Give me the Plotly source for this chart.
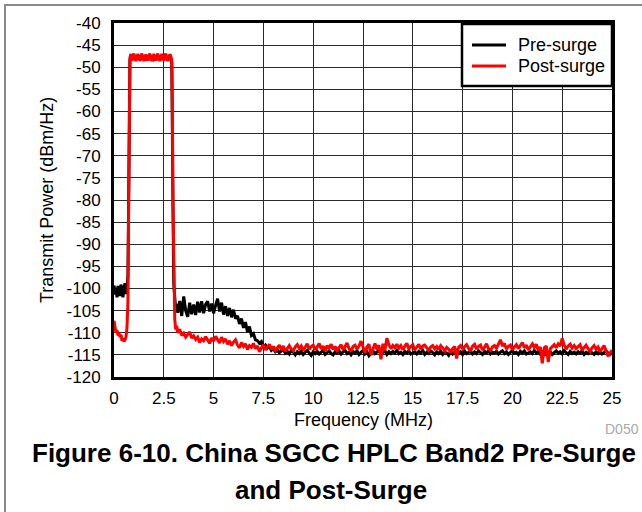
import plotly.graph_objects as go

# ---------------- data ----------------
# Frequency grid (MHz) for the low band + pass band + edges (shared by both traces)
head_freq = [0.0, 0.05, 0.1, 0.15, 0.2, 0.25, 0.3, 0.35, 0.4, 0.45, 0.5, 0.55, 0.6, 0.65,
             0.7, 0.73, 0.76, 0.78, 0.8, 0.85,
             0.9, 1.0, 1.1, 1.2, 1.3, 1.4, 1.5, 1.6, 1.7, 1.8, 1.9, 2.0, 2.1, 2.2, 2.3, 2.4,
             2.5, 2.6, 2.7, 2.8,
             2.85, 2.9, 2.93, 2.96, 3.0, 3.05, 3.1, 3.15]

# Frequency grid (MHz) for the out-of-band tail
tail_freq = [3.2, 3.3, 3.4, 3.5, 3.6, 3.7, 3.8, 3.9, 4.0, 4.1,
             4.2, 4.3, 4.4, 4.5, 4.6, 4.7, 4.8, 4.9, 5.0, 5.1,
             5.2, 5.3, 5.4, 5.5, 5.6, 5.7, 5.8, 5.9, 6.0, 6.1,
             6.2, 6.3, 6.4, 6.5, 6.6, 6.7, 6.8, 6.9, 7.0, 7.1,
             7.2, 7.3, 7.4, 7.5, 7.6, 7.7, 7.8, 7.9, 8.0, 8.1,
             8.2, 8.3, 8.4, 8.5, 8.6, 8.7, 8.8, 8.9, 9.0, 9.1,
             9.2, 9.3, 9.4, 9.5, 9.6, 9.7, 9.8, 9.9, 10.0, 10.1,
             10.2, 10.3, 10.4, 10.5, 10.6, 10.7, 10.8, 10.9, 11.0, 11.1,
             11.2, 11.3, 11.4, 11.5, 11.6, 11.7, 11.8, 11.9, 12.0, 12.1,
             12.2, 12.3, 12.4, 12.5, 12.6, 12.7, 12.8, 12.9, 13.0, 13.1,
             13.2, 13.3, 13.4, 13.5, 13.6, 13.7, 13.8, 13.9, 14.0, 14.1,
             14.2, 14.3, 14.4, 14.5, 14.6, 14.7, 14.8, 14.9, 15.0, 15.1,
             15.2, 15.3, 15.4, 15.5, 15.6, 15.7, 15.8, 15.9, 16.0, 16.1,
             16.2, 16.3, 16.4, 16.5, 16.6, 16.7, 16.8, 16.9, 17.0, 17.1,
             17.2, 17.3, 17.4, 17.5, 17.6, 17.7, 17.8, 17.9, 18.0, 18.1,
             18.2, 18.3, 18.4, 18.5, 18.6, 18.7, 18.8, 18.9, 19.0, 19.1,
             19.2, 19.3, 19.4, 19.5, 19.6, 19.7, 19.8, 19.9, 20.0, 20.1,
             20.2, 20.3, 20.4, 20.5, 20.6, 20.7, 20.8, 20.9, 21.0, 21.1,
             21.2, 21.3, 21.4, 21.5, 21.6, 21.7, 21.8, 21.9, 22.0, 22.1,
             22.2, 22.3, 22.4, 22.5, 22.6, 22.7, 22.8, 22.9, 23.0, 23.1,
             23.2, 23.3, 23.4, 23.5, 23.6, 23.7, 23.8, 23.9, 24.0, 24.1,
             24.2, 24.3, 24.4, 24.5, 24.6, 24.7, 24.8, 24.9, 25.0]

# Pre-surge (dBm/Hz)
pre_head = [-99.3, -101.4, -99.8, -102.0, -99.4, -101.1, -101.7, -99.1, -100.9, -102.0,
            -100.0, -98.8, -101.2, -100.4,
            -97.0, -84.0, -60.0, -50.5, -48.3, -48.0,
            -48.1, -47.8, -48.2, -47.9, -48.3, -47.8, -48.0, -48.2, -47.9, -48.1,
            -47.8, -48.3, -48.0, -47.9, -48.2, -48.0, -47.8, -48.1, -48.2, -47.9,
            -48.0, -49.0, -59.0, -81.0, -99.0, -103.0, -104.8, -103.5]
pre_tail = [-105.5, -102.8, -106.2, -101.8, -105.0, -106.4, -103.2, -105.8, -103.6, -106.0,
            -103.0, -105.4, -102.9, -105.6, -103.6, -102.9, -105.2, -103.4, -105.6, -103.8,
            -102.3, -105.2, -103.2, -105.9, -104.0, -106.2, -104.4, -106.5, -104.8, -106.8,
            -106.2, -108.0, -106.8, -108.9, -107.6, -109.8, -108.6, -110.6, -110.2, -111.6,
            -111.8, -112.4, -112.0, -113.2, -112.8, -113.5, -113.1, -114.0, -113.6, -114.3,
            -113.9, -114.5, -114.1, -113.8, -114.6, -114.2, -114.8, -114.0, -114.4, -115.0,
            -114.3, -114.7, -114.1, -114.9, -114.4, -114.0, -114.6, -115.1, -114.3, -114.7,
            -114.2, -114.8, -114.4, -114.0, -114.9, -114.5, -114.1, -114.7, -115.0, -114.3,
            -114.6, -114.1, -114.8, -114.3, -114.0, -114.7, -114.4, -115.0, -114.2, -114.6,
            -114.1, -114.9, -114.5, -114.0, -114.8, -114.3, -115.2, -114.6, -114.1, -114.7,
            -114.4, -114.0, -114.8, -114.5, -114.1, -114.9, -114.3, -114.7, -114.2, -114.6,
            -114.0, -114.7, -114.4, -114.9, -114.2, -114.6, -114.1, -114.8, -114.5, -114.3,
            -114.8, -114.2, -114.6, -114.0, -114.9, -114.4, -114.7, -114.1, -114.5, -115.0,
            -114.3, -114.7, -114.1, -114.9, -114.4, -114.6, -115.1, -114.2, -114.8, -114.5,
            -114.0, -114.6, -114.3, -114.9, -114.1, -114.7, -114.4, -114.2, -114.8, -114.3,
            -114.7, -114.1, -114.5, -114.9, -114.2, -114.6, -114.0, -114.8, -114.4, -114.6,
            -114.2, -114.8, -114.4, -114.1, -114.7, -114.3, -114.9, -114.5, -114.0, -114.6,
            -114.4, -114.9, -114.2, -114.6, -114.1, -114.8, -114.5, -114.3, -114.7, -114.0,
            -114.6, -114.2, -114.8, -114.4, -115.2, -114.1, -114.7, -114.3, -114.9, -114.5,
            -114.1, -114.6, -114.3, -114.8, -114.0, -114.5, -114.9, -114.2, -114.7, -114.4,
            -114.8, -114.3, -114.6, -114.1, -114.9, -114.4, -114.7, -114.2, -114.5, -114.9,
            -114.3, -114.7, -114.2, -114.8, -114.5, -114.1, -114.6, -114.9, -114.4]

# Post-surge (dBm/Hz)
post_head = [-107.3, -109.2, -110.0, -109.4, -110.6, -110.1, -111.0, -110.4, -111.8, -111.2,
             -112.0, -111.6, -111.0, -109.0,
             -103.0, -85.0, -60.0, -50.0, -47.8, -47.0,
             -48.5, -46.9, -48.6, -47.0, -48.5, -46.9, -48.6, -47.1, -48.5, -46.9,
             -48.6, -47.0, -48.5, -46.9, -48.6, -47.0, -48.5, -46.9, -48.6, -47.1,
             -47.4, -48.5, -58.0, -80.0, -100.0, -107.0, -109.3, -108.4]
post_tail = [-110.0, -109.2, -110.6, -110.1, -111.0, -110.4, -109.8, -111.2, -110.7, -111.5,
             -111.0, -112.2, -111.4, -111.8, -110.9, -111.6, -112.4, -111.2, -111.9, -110.8,
             -111.5, -112.3, -111.0, -112.0, -111.4, -112.6, -111.8, -112.9, -112.1, -111.6,
             -112.8, -113.4, -112.2, -113.1, -112.5, -113.8, -112.9, -113.3, -112.4, -113.6,
             -113.0, -114.3, -113.4, -112.7, -113.9, -113.2, -112.6, -113.8, -113.1, -114.0,
             -113.3, -112.8, -113.9, -113.0, -114.2, -113.4, -112.9, -113.7, -114.1, -113.2,
             -112.7, -113.6, -113.0, -114.0, -113.3, -112.5, -113.8, -113.1, -112.8, -113.9,
             -113.2, -112.4, -113.7, -113.0, -114.1, -112.9, -113.5, -112.6, -113.8, -113.1,
             -114.0, -113.2, -112.7, -113.9, -113.0, -112.3, -113.6, -114.2, -113.1, -112.8,
             -113.7, -113.0, -111.9, -113.5, -114.5, -113.2, -112.6, -115.0, -113.4, -112.4,
             -113.8, -112.8, -116.0, -112.5, -114.0, -111.2, -112.7, -113.6, -112.9, -113.4,
             -112.6, -113.5, -112.9, -113.8, -113.0, -112.4, -113.6, -113.1, -112.7, -113.9,
             -113.2, -112.6, -113.7, -113.0, -112.8, -113.5, -114.0, -113.2, -112.9, -113.6,
             -113.1, -113.8, -112.9, -113.4, -114.1, -113.3, -113.7, -114.5, -113.6, -113.1,
             -115.8, -113.3, -112.9, -113.6, -113.2, -112.7, -113.5, -114.2, -113.0, -112.6,
             -113.7, -113.1, -112.8, -113.9, -113.3, -112.5, -113.6, -114.0, -113.2, -112.9,
             -113.5, -112.6, -111.6, -113.0, -112.4, -113.7, -113.1, -112.8, -113.9, -113.2,
             -112.7, -113.6, -113.0, -112.2, -113.4, -112.8, -113.9, -113.2, -112.5, -113.3,
             -112.6, -114.0, -113.2, -116.9, -113.4, -113.0, -116.6, -113.6, -113.1, -112.7,
             -113.4, -112.5, -113.0, -111.3, -112.8, -113.7, -113.0, -112.6, -113.5, -112.9,
             -113.6, -113.1, -112.7, -113.9, -113.3, -112.8, -113.6, -114.2, -113.4, -112.9,
             -113.7, -113.2, -114.3, -113.5, -112.9, -114.0, -115.3, -114.6, -113.9]

series_names = ["Pre-surge", "Post-surge"]
series_colors = ["#000000", "#ff0000"]

y_ticks = [-40, -45, -50, -55, -60, -65, -70, -75, -80, -85, -90, -95, -100, -105, -110, -115, -120]
y_tick_text = ["-40", "-45", "-50", "-55", "-60", "-65", "-70", "-75", "-80", "-85", "-90", "-95",
               "-100", "-105", "-110", "-115", "-120"]
x_ticks = [0, 2.5, 5, 7.5, 10, 12.5, 15, 17.5, 20, 22.5, 25]
x_tick_text = ["0", "2.5", "5", "7.5", "10", "12.5", "15", "17.5", "20", "22.5", "25"]

x_title = "Frequency (MHz)"
y_title = "Transmit Power (dBm/Hz)"
caption_1 = "Figure 6-10. China SGCC HPLC Band2 Pre-Surge"
caption_2 = "and Post-Surge"
doc_id = "D050"

# ---------------- figure ----------------
FONT = "Liberation Sans, Arial, sans-serif"
W, H = 642, 512
L, R, T, B = 114, 30, 23, 135
pw, ph = W - L - R, H - T - B


def px(x):
    return (x - L) / pw


def py(y):
    return (H - B - y) / ph


fig = go.Figure()
fig.add_trace(go.Scatter(x=head_freq + tail_freq, y=pre_head + pre_tail, mode="lines",
                         name=series_names[0], line=dict(color=series_colors[0], width=3)))
fig.add_trace(go.Scatter(x=head_freq + tail_freq, y=post_head + post_tail, mode="lines",
                         name=series_names[1], line=dict(color=series_colors[1], width=3)))

axis_common = dict(showgrid=True, gridcolor="#2a2a2a", gridwidth=1, zeroline=False,
                   showline=True, linecolor="#000000", linewidth=3, mirror=True,
                   ticks="", tickfont=dict(family=FONT, size=17, color="#000000"))

fig.update_xaxes(range=[0, 25], tickvals=x_ticks, ticktext=x_tick_text,
                 ticklabelstandoff=4, **axis_common)
fig.update_yaxes(range=[-120, -40], tickvals=y_ticks, ticktext=y_tick_text,
                 ticklabelstandoff=7, **axis_common)

# legend box (drawn as shapes + text so spacing matches the original)
leg_x0, leg_x1, leg_y0, leg_y1 = 462, 612, 24, 86
leg_rows = [45, 66]

annotations = [
    dict(text=x_title, x=px(363), y=py(420), xref="paper", yref="paper", showarrow=False,
         xanchor="center", yanchor="middle", font=dict(family=FONT, size=18, color="#000")),
    dict(text=y_title, x=px(47), y=0.5, xref="paper", yref="paper", showarrow=False,
         textangle=-90, xanchor="center", yanchor="middle",
         font=dict(family=FONT, size=18, color="#000")),
    dict(text=doc_id, x=px(641), y=py(429), xref="paper", yref="paper", showarrow=False,
         xanchor="right", yanchor="middle", font=dict(family=FONT, size=14, color="#aaaaaa")),
    dict(text="<b>" + caption_1 + "</b>", x=px(30), y=py(453), xref="paper", yref="paper",
         showarrow=False, xanchor="left", yanchor="middle",
         font=dict(family=FONT, size=26, color="#000")),
    dict(text="<b>" + caption_2 + "</b>", x=px(331), y=py(490), xref="paper", yref="paper",
         showarrow=False, xanchor="center", yanchor="middle",
         font=dict(family=FONT, size=26, color="#000")),
]
for name, row in zip(series_names, leg_rows):
    annotations.append(dict(text=name, x=px(516), y=py(row), xref="paper", yref="paper",
                            showarrow=False, xanchor="left", yanchor="middle",
                            font=dict(family=FONT, size=18, color="#000")))

shapes = [
    dict(type="rect", xref="paper", yref="paper", x0=px(5), y0=py(560), x1=px(700), y1=py(5),
         line=dict(color="#8a8a8a", width=2), fillcolor="rgba(0,0,0,0)", layer="below"),
    dict(type="rect", xref="paper", yref="paper", x0=px(leg_x0), y0=py(leg_y1),
         x1=px(leg_x1), y1=py(leg_y0), line=dict(color="#000000", width=2.5),
         fillcolor="#ffffff", layer="above"),
]
for color, row in zip(series_colors, leg_rows):
    shapes.append(dict(type="line", xref="paper", yref="paper", x0=px(472), x1=px(506),
                       y0=py(row), y1=py(row), line=dict(color=color, width=3)))

fig.update_layout(
    width=W, height=H, autosize=False,
    margin=dict(l=L, r=R, t=T, b=B, pad=0),
    paper_bgcolor="#ffffff", plot_bgcolor="#ffffff",
    font=dict(family=FONT, size=17, color="#000"),
    showlegend=False,
    annotations=annotations,
    shapes=shapes,
)

fig.write_html("out.html", config={"displayModeBar": False},
               post_script="document.body.style.margin='0';document.body.style.overflow='hidden';")
